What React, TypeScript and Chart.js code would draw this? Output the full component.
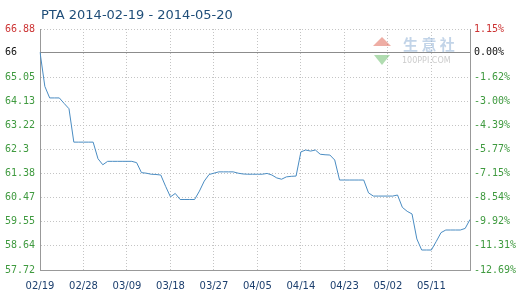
import React, { useEffect, useRef } from "react";
import { Chart, registerables } from "chart.js";

Chart.register(...registerables);

const TITLE = "PTA 2014-02-19 - 2014-05-20";
const START_DATE = "2014-02-19";
const LABEL_EVERY = 9;
const BASE_VALUE = 66;

const PRICES = [
  66.0, 64.7, 64.26, 64.26, 64.26, 64.05, 63.85, 62.58, 62.58, 62.58,
  62.58, 62.58, 61.95, 61.72, 61.85, 61.85, 61.85, 61.85, 61.85, 61.85,
  61.8, 61.42, 61.4, 61.36, 61.35, 61.33, 60.9, 60.5, 60.63, 60.4,
  60.4, 60.4, 60.4, 60.72, 61.1, 61.35, 61.4, 61.45, 61.45, 61.45,
  61.45, 61.4, 61.37, 61.36, 61.36, 61.36, 61.36, 61.39, 61.33, 61.22,
  61.17, 61.26, 61.28, 61.29, 62.21, 62.28, 62.24, 62.28, 62.12, 62.1,
  62.09, 61.9, 61.14, 61.14, 61.14, 61.14, 61.14, 61.14, 60.65, 60.53,
  60.53, 60.53, 60.53, 60.53, 60.57, 60.1, 59.95, 59.85, 58.9, 58.48,
  58.48, 58.48, 58.8, 59.14, 59.24, 59.24, 59.24, 59.24, 59.3, 59.64,
];

const Y_TICKS = [66.88, 66, 65.05, 64.13, 63.22, 62.3, 61.38, 60.47, 59.55, 58.64, 57.72];
const Y_TICK_LABELS = ["66.88", "66", "65.05", "64.13", "63.22", "62.3", "61.38", "60.47", "59.55", "58.64", "57.72"];
const PCT_LABELS = ["1.15%", "0.00%", "-1.62%", "-3.00%", "-4.39%", "-5.77%", "-7.15%", "-8.54%", "-9.92%", "-11.31%", "-12.69%"];

function buildDates(start: string, n: number): string[] {
  const out: string[] = [];
  const [y, m, d] = start.split("-").map(Number);
  for (let i = 0; i < n; i++) {
    const dt = new Date(Date.UTC(y, m - 1, d + i));
    const mm = String(dt.getUTCMonth() + 1).padStart(2, "0");
    const dd = String(dt.getUTCDate()).padStart(2, "0");
    out.push(mm + "/" + dd);
  }
  return out;
}

const DATES = buildDates(START_DATE, PRICES.length);

const tickColor = (i: number) => (i === 0 ? "#cc3333" : i === 1 ? "#111111" : "#3f9a3f");

const overlayPlugin = {
  id: "overlay",
  beforeDatasetsDraw(chart: any) {
    const { ctx, chartArea, scales } = chart;
    const y = Math.round(scales.y.getPixelForValue(BASE_VALUE)) + 0.5;
    ctx.save();
    ctx.strokeStyle = "#8c8c8c";
    ctx.lineWidth = 1;
    ctx.beginPath();
    ctx.moveTo(chartArea.left, y);
    ctx.lineTo(chartArea.right, y);
    ctx.stroke();
    // watermark
    ctx.globalAlpha = 0.55;
    ctx.fillStyle = "#e06a5a";
    ctx.beginPath();
    ctx.moveTo(382, 37);
    ctx.lineTo(373, 46);
    ctx.lineTo(391, 46);
    ctx.closePath();
    ctx.fill();
    ctx.fillStyle = "#6fbf6f";
    ctx.beginPath();
    ctx.moveTo(374, 55);
    ctx.lineTo(390, 55);
    ctx.lineTo(382, 65);
    ctx.closePath();
    ctx.fill();
    ctx.fillStyle = "#8fb0d6";
    ctx.font = 'bold 15px "Noto Sans CJK SC"';
    ctx.textBaseline = "middle";
    ctx.textAlign = "left";
    ctx.fillText("生 意 社", 403, 44);
    ctx.fillStyle = "#a0a0a0";
    ctx.font = '8px "DejaVu Sans"';
    ctx.fillText("100PPI.COM", 402, 61);
    ctx.restore();
  },
  afterDraw(chart: any) {
    const { ctx } = chart;
    ctx.save();
    ctx.fillStyle = "#1f4e79";
    ctx.font = '13px "DejaVu Sans"';
    ctx.textAlign = "left";
    ctx.textBaseline = "alphabetic";
    ctx.fillText(TITLE, 41, 19);
    ctx.restore();
  },
};

export default function App() {
  const ref = useRef<HTMLCanvasElement | null>(null);
  useEffect(() => {
    document.body.style.margin = "0";
    const canvas = ref.current;
    if (!canvas) return;
    const monoFont = { family: '"DejaVu Sans Mono", monospace', size: 10 };
    const chart = new Chart(canvas, {
      type: "line",
      data: {
        labels: DATES,
        datasets: [
          {
            data: PRICES,
            borderColor: "#4a8cc2",
            borderWidth: 1,
            pointRadius: 0,
            tension: 0,
            fill: false,
          },
        ],
      },
      options: {
        responsive: false,
        animation: false,
        events: [],
        layout: { padding: { left: 5, right: 0, top: 29, bottom: 0 } },
        plugins: { legend: { display: false }, title: { display: false }, tooltip: { enabled: false } },
        scales: {
          x: {
            type: "category",
            offset: false,
            grid: { color: "#c4c4c4", drawTicks: false, lineWidth: 1 },
            border: { color: "#999999", dash: [1, 2] },
            ticks: {
              autoSkip: false,
              maxRotation: 0,
              padding: 10,
              color: "#1c3f6e",
              font: { family: '"DejaVu Sans", sans-serif', size: 10 },
              callback: (_v: any, i: number) => (i % LABEL_EVERY === 0 ? DATES[i] : null),
            },
            afterFit: (s: any) => {
              s.height = 30;
            },
          },
          y: {
            type: "linear",
            position: "left",
            min: Y_TICKS[Y_TICKS.length - 1],
            max: Y_TICKS[0],
            afterBuildTicks: (s: any) => {
              s.ticks = Y_TICKS.map((v) => ({ value: v }));
            },
            grid: { color: "#c4c4c4", drawTicks: false, lineWidth: 1 },
            border: { color: "#999999", dash: [1, 2] },
            ticks: {
              crossAlign: "far",
              padding: 4,
              font: monoFont,
              color: (c: any) => tickColor(c.index),
              callback: (_v: any, i: number) => Y_TICK_LABELS[i],
            },
            afterFit: (s: any) => {
              s.width = 35;
            },
          },
          y2: {
            type: "linear",
            position: "right",
            min: Y_TICKS[Y_TICKS.length - 1],
            max: Y_TICKS[0],
            afterBuildTicks: (s: any) => {
              s.ticks = Y_TICKS.map((v) => ({ value: v }));
            },
            grid: { drawOnChartArea: false, drawTicks: false },
            border: { color: "#999999" },
            ticks: {
              crossAlign: "near",
              padding: 4,
              font: monoFont,
              color: (c: any) => tickColor(c.index),
              callback: (_v: any, i: number) => PCT_LABELS[i],
            },
            afterFit: (s: any) => {
              s.width = 50;
            },
          },
        },
      },
      plugins: [overlayPlugin],
    } as any);
    return () => chart.destroy();
  }, []);
  return <canvas ref={ref} width={520} height={300} style={{ display: "block" }} />;
}
